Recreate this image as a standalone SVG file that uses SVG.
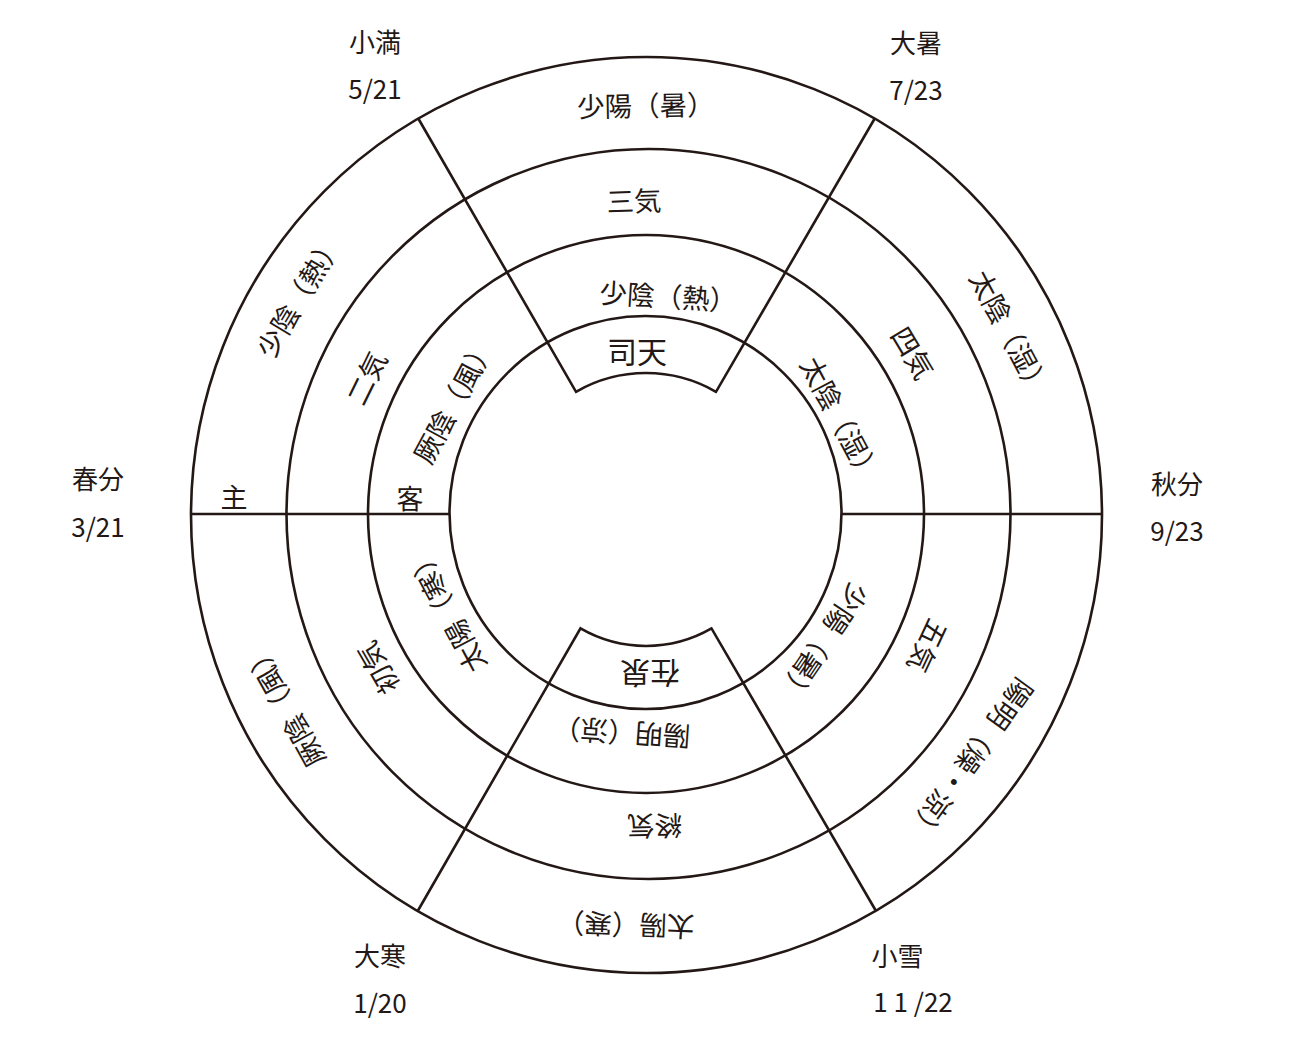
<svg xmlns="http://www.w3.org/2000/svg" width="1308" height="1050" viewBox="0 0 1308 1050">
<style>
.ln{fill:none;stroke:#231815;stroke-width:2.6}
text{font-family:"Noto Sans CJK JP","Noto Sans CJK SC",sans-serif;fill:#231815;text-anchor:middle}
.r{font-size:27.5px}
.c{font-size:26px}
.k{font-size:27px}
.b{font-size:30px}
</style>
<rect width="1308" height="1050" fill="#ffffff"/>
<g id="rings" class="ln">
<ellipse cx="646.5" cy="515" rx="455.5" ry="458"/>
<ellipse cx="648.5" cy="514" rx="362" ry="365"/>
<ellipse cx="646" cy="514" rx="278" ry="279"/>
<ellipse cx="645.5" cy="512.5" rx="196" ry="196.5"/>
</g>
<g id="connectors" class="ln">
<line x1="191" y1="514" x2="449.5" y2="514"/>
<line x1="841.5" y1="514" x2="1102" y2="514"/>
<path d="M418 118 L576 391.8 A140 140 0 0 1 716 391.8 L875 118"/>
<path d="M418 910.5 L580.5 628.4 A131 131 0 0 0 711.5 628.4 L876 911"/>
</g>
<g id="outer-ring" class="r">
<text transform="translate(637.5 105.8) rotate(-1)" x="8.3" y="10.4">少陽（暑）</text>
<text transform="translate(1006 326) rotate(62)" x="8.3" y="10.4">太陰（湿）</text>
<text transform="translate(975 753) rotate(126)" x="8.3" y="10.4">陽明（燥・涼）</text>
<text transform="translate(634 925) rotate(182)" x="8.3" y="10.4">太陽（寒）</text>
<text transform="translate(288 712) rotate(241)" x="8.3" y="10.4">厥陰（風）</text>
<text transform="translate(295 303) rotate(-59)" x="8.3" y="10.4">少陰（熱）</text>
</g>
<g id="middle-ring" class="r">
<text transform="translate(634 201) rotate(-2)" y="10.4">三気</text>
<text transform="translate(912.5 353) rotate(59)" y="10.4">四気</text>
<text transform="translate(927.5 646) rotate(115)" y="10.4">五気</text>
<text transform="translate(654.5 826) rotate(178.5)" y="10.4">終気</text>
<text transform="translate(378 668) rotate(240)" y="10.4">初気</text>
<text transform="translate(366.7 378.3) rotate(-64)" y="10.4">二気</text>
</g>
<g id="inner-ring" class="r">
<text transform="translate(660 296) rotate(3.5)" x="8.3" y="10.4">少陰（熱）</text>
<text transform="translate(836.7 412.5) rotate(62)" x="8.3" y="10.4">太陰（湿）</text>
<text transform="translate(827.5 636) rotate(124)" x="8.3" y="10.4">少陽（暑）</text>
<text transform="translate(630 733) rotate(184)" x="8.3" y="10.4">陽明（涼）</text>
<text transform="translate(450 617) rotate(242)" x="8.3" y="10.4">太陽（寒）</text>
<text transform="translate(450 408) rotate(-61.6)" x="8.3" y="10.4">厥陰（風）</text>
</g>
<g id="center" class="b">
<text transform="translate(637 352)" y="11.4">司天</text>
<text transform="translate(650 673) rotate(180)" y="11.4">在泉</text>
</g>
<g id="axis-labels" class="k">
<text x="234" y="508">主</text>
<text x="410" y="509">客</text>
</g>
<g id="dates" class="c">
<text x="375" y="52">小満</text>
<text x="375" y="98.5">5/21</text>
<text x="916" y="53">大暑</text>
<text x="916" y="99.5">7/23</text>
<text x="98" y="489">春分</text>
<text x="98" y="536.5">3/21</text>
<text x="1177" y="494">秋分</text>
<text x="1177" y="540.5">9/23</text>
<text x="380" y="966">大寒</text>
<text x="380" y="1012.5">1/20</text>
<text x="897.5" y="966">小雪</text>
<text x="913" y="1011.5">1 1 /22</text>
</g>
</svg>
